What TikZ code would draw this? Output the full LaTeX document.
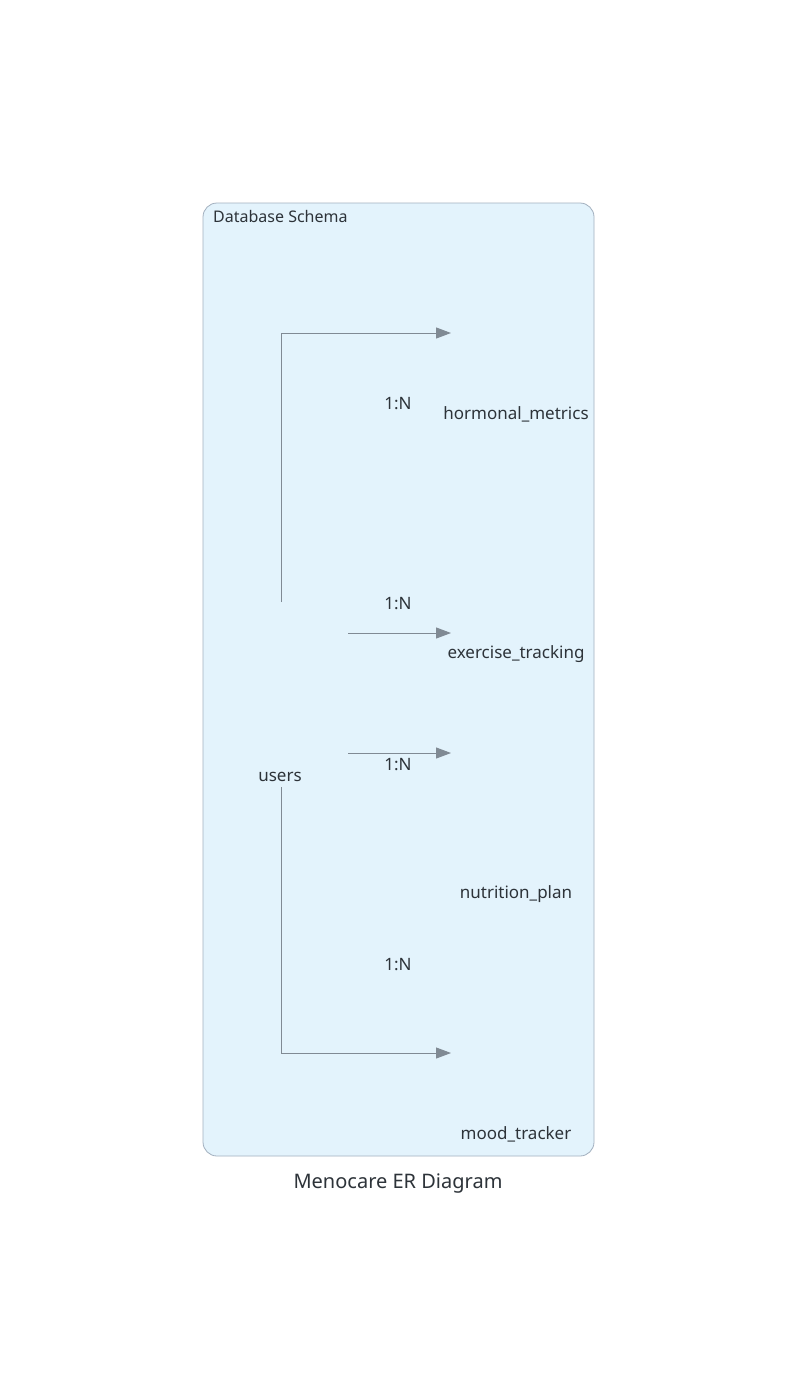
\documentclass[tikz,border=0pt]{standalone}
\usepackage{fontspec}
\setmainfont{Noto Sans}
\usetikzlibrary{arrows.meta}
\definecolor{cfill}{HTML}{E3F3FC}
\definecolor{cdraw}{HTML}{A3B0BF}
\definecolor{cline}{HTML}{808A94}
\definecolor{ctext}{HTML}{2D3339}
\begin{document}
\begin{tikzpicture}[x=1pt,y=-1pt,
  txt/.style={inner sep=0pt,text=ctext,yshift=-1.5pt,font=\fontsize{17pt}{20pt}\selectfont},
  lbl/.style={txt},
  rel/.style={draw=cline,line width=1pt,-{Triangle[length=15pt,width=11pt]}}]
\useasboundingbox (0,0) rectangle (797,1392);
\fill[white] (0,0) rectangle (797,1392);
\draw[fill=cfill,draw=cdraw,line width=0.8pt,rounded corners=14pt] (203,203) rectangle (594,1156);
\node[txt,anchor=west,font=\fontsize{16pt}{19pt}\selectfont] (schema) at (213,215) {Database Schema};
\node[txt,font=\fontsize{20pt}{24pt}\selectfont] (title) at (398,1182) {Menocare ER Diagram};
\node[txt] (users) at (280,775) {users};
\node[txt] (hm) at (516,413) {hormonal\_metrics};
\node[txt] (ex) at (516,653) {exercise\_tracking};
\node[txt] (np) at (516,893) {nutrition\_plan};
\node[txt] (mt) at (516,1133) {mood\_tracker};
\coordinate (s1) at (281,602);
\coordinate (t1) at (451,333);
\coordinate (s2) at (348,633);
\coordinate (t2) at (451,633);
\coordinate (s3) at (348,753);
\coordinate (t3) at (451,753);
\coordinate (s4) at (281,787);
\coordinate (t4) at (451,1053);
\draw[rel] (s1) |- (t1);
\draw[rel] (s2) -- (t2);
\draw[rel] (s3) -- (t3);
\draw[rel] (s4) |- (t4);
\node[lbl] (l1) at (398,402) {1:N};
\node[lbl] (l2) at (398,602) {1:N};
\node[lbl] (l3) at (398,763) {1:N};
\node[lbl] (l4) at (398,963) {1:N};
\end{tikzpicture}
\end{document}
